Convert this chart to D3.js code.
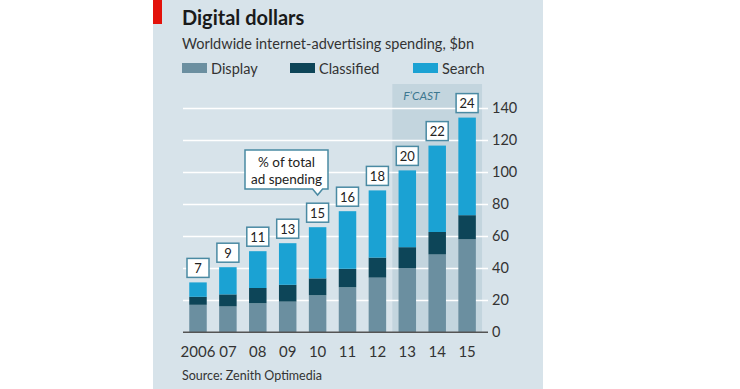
<!DOCTYPE html>
<html>
<head>
<meta charset="utf-8">
<script src="https://cdn.jsdelivr.net/npm/d3@7"></script>
<style>
  body { margin: 0; background: #fff; }
  svg { display: block; font-family: Lato, "Open Sans", sans-serif; }
</style>
</head>
<body>
<div id="chart"></div>
<script>
// data
const years = ['2006', '07', '08', '09', '10', '11', '12', '13', '14', '15'];
const display = [17, 16, 18, 19, 23, 28, 34, 40, 48.5, 58];
const classified = [5, 7.5, 9.5, 10.5, 10.5, 11.5, 12.5, 13, 14, 15];
const search = [9, 17, 23, 26, 32, 36, 42, 48, 54, 61];
const pctOfTotal = [7, 9, 11, 13, 15, 16, 18, 20, 22, 24];
const forecastYears = ['13', '14', '15'];
const yTicks = [0, 20, 40, 60, 80, 100, 120, 140];

const colors = { Display: '#6b8fa0', Classified: '#0d4558', Search: '#1ba2d3' };

const W = 740, H = 389;
const svg = d3.select('#chart').append('svg')
    .attr('width', W)
    .attr('height', H);

// panel
svg.append('rect')
    .attr('x', 153).attr('y', 0)
    .attr('width', 390).attr('height', H)
    .attr('fill', '#d7e3ea');
svg.append('rect')
    .attr('x', 153).attr('y', 0)
    .attr('width', 9).attr('height', 24)
    .attr('fill', '#e3120b');

// titles
svg.append('text')
    .attr('x', 182).attr('y', 25)
    .attr('font-size', 20).attr('font-weight', 'bold')
    .attr('fill', '#1a1a1a')
    .text('Digital dollars');
svg.append('text')
    .attr('x', 182).attr('y', 49)
    .attr('font-size', 14.5)
    .attr('fill', '#333')
    .text('Worldwide internet-advertising spending, $bn');

// legend
const legend = [
    { key: 'Display', x: 182 },
    { key: 'Classified', x: 290 },
    { key: 'Search', x: 413 }
];
const lg = svg.append('g');
lg.selectAll('rect').data(legend).enter().append('rect')
    .attr('x', d => d.x).attr('y', 63)
    .attr('width', 25).attr('height', 10)
    .attr('fill', d => colors[d.key]);
lg.selectAll('text').data(legend).enter().append('text')
    .attr('x', d => d.x + 29).attr('y', 74)
    .attr('font-size', 14.5)
    .attr('fill', '#333')
    .text(d => d.key);

// scales
const x = d3.scaleBand()
    .domain(years)
    .range([183.05, 482.05])
    .paddingInner(0.415)
    .paddingOuter(0.2075);
const y = d3.scaleLinear()
    .domain([0, 140])
    .range([332, 108]);

// forecast shading
const fx0 = x(forecastYears[0]) - x.step() * x.paddingInner() / 2;
svg.append('rect')
    .attr('x', fx0).attr('y', 84)
    .attr('width', 482.05 - fx0).attr('height', y(0) - 84)
    .attr('fill', '#c3d5de');
svg.append('text')
    .attr('x', fx0 + 29).attr('y', 100)
    .attr('text-anchor', 'middle')
    .attr('font-size', 12).attr('font-style', 'italic')
    .attr('fill', '#3d7890')
    .text('F\u2019CAST');

// gridlines and y axis on the right
const yAxis = d3.axisRight(y)
    .tickValues(yTicks)
    .tickSize(305)
    .tickPadding(4);
const ga = svg.append('g')
    .attr('transform', 'translate(183,0)')
    .call(yAxis);
ga.select('.domain').remove();
ga.selectAll('.tick line')
    .attr('stroke', d => d === 0 ? '#555' : '#fff')
    .attr('stroke-width', d => d === 0 ? 1.2 : 1.5);
ga.selectAll('.tick text')
    .attr('font-size', 14.5)
    .attr('fill', '#333')
    .attr('font-family', 'Lato, "Open Sans", sans-serif');

// stacked bars
const rows = years.map((yr, i) => ({
    year: yr, Display: display[i], Classified: classified[i], Search: search[i]
}));
const stack = d3.stack().keys(['Display', 'Classified', 'Search'])(rows);

svg.append('g')
    .selectAll('g')
    .data(stack)
    .enter().append('g')
    .attr('fill', d => colors[d.key])
    .selectAll('rect')
    .data(d => d)
    .enter().append('rect')
    .attr('x', d => x(d.data.year))
    .attr('y', d => y(d[1]))
    .attr('width', x.bandwidth())
    .attr('height', d => y(d[0]) - y(d[1]));

// redraw baseline over the bars
svg.append('line')
    .attr('x1', 183).attr('x2', 488)
    .attr('y1', y(0)).attr('y2', y(0))
    .attr('stroke', '#555').attr('stroke-width', 1.2);

// percentage boxes above each bar
const tops = stack[2].map(d => d[1]);
const boxes = svg.append('g')
    .selectAll('g')
    .data(pctOfTotal)
    .enter().append('g')
    .attr('transform', (d, i) =>
        `translate(${x(years[i]) + x.bandwidth() / 2},${y(tops[i]) - 5})`);
boxes.append('rect')
    .attr('x', -11).attr('y', -19)
    .attr('width', 22).attr('height', 19)
    .attr('fill', '#fff')
    .attr('stroke', '#4a8aa3').attr('stroke-width', 1.5);
boxes.append('text')
    .attr('y', -4.5)
    .attr('text-anchor', 'middle')
    .attr('font-size', 13)
    .attr('fill', '#222')
    .text(d => d);

// callout
const cx = x('10') + x.bandwidth() / 2;
const cTop = 150, cBot = 189, cL = 245, cR = 328;
svg.append('path')
    .attr('d', `M${cL},${cTop}H${cR}V${cBot}H${cx + 5}L${cx},${cBot + 6}L${cx - 5},${cBot}H${cL}Z`)
    .attr('fill', '#fff')
    .attr('stroke', '#4a8aa3').attr('stroke-width', 1.5);
svg.append('text')
    .attr('x', (cL + cR) / 2).attr('y', 167)
    .attr('text-anchor', 'middle')
    .attr('font-size', 13.5).attr('fill', '#222')
    .text('% of total');
svg.append('text')
    .attr('x', (cL + cR) / 2).attr('y', 184)
    .attr('text-anchor', 'middle')
    .attr('font-size', 13.5).attr('fill', '#222')
    .text('ad spending');

// x labels
svg.append('g')
    .selectAll('text')
    .data(years)
    .enter().append('text')
    .attr('x', d => x(d) + x.bandwidth() / 2)
    .attr('y', 357)
    .attr('text-anchor', 'middle')
    .attr('font-size', 15)
    .attr('fill', '#333')
    .text(d => d);

// source
svg.append('text')
    .attr('x', 182).attr('y', 380)
    .attr('font-size', 12.5)
    .attr('fill', '#333')
    .text('Source: Zenith Optimedia');
</script>
</body>
</html>
